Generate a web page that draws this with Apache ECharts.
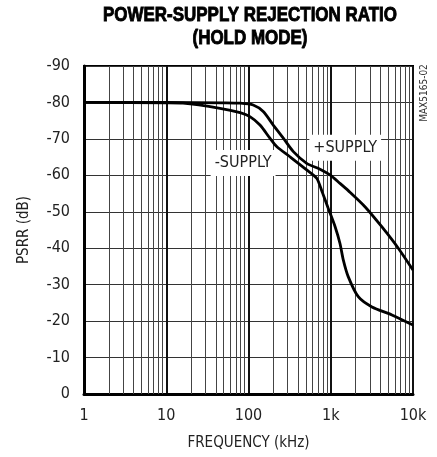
<!DOCTYPE html>
<html>
<head>
<meta charset="utf-8">
<script src="https://cdn.jsdelivr.net/npm/echarts@6/dist/echarts.min.js"></script>
<style>
    html, body { margin: 0; padding: 0; background: #fff; }
    #main { width: 437px; height: 457px; }
</style>
</head>
<body>
<div id="main"></div>
<script>
const FONT = "'Liberation Sans Narrow', 'DejaVu Sans Condensed', sans-serif";
const TITLE_FONT = "'Liberation Sans', Arial, sans-serif";

// frequency (kHz) / PSRR (dB)
const plusFreq = [1, 10, 50, 79, 114, 151, 200, 265, 351, 510, 740, 980, 1295, 1634, 2606, 4170, 6625, 10000];
const plusPsrr = [-80, -80, -79.9, -79.8, -79.3, -77.5, -73.8, -70.2, -66.5, -63.3, -61.7, -60.1, -57.8, -55.8, -51.4, -45.9, -40, -34];

const minusFreq = [1, 10, 16, 45, 79, 104, 138, 182, 220, 319, 510, 675, 785, 930, 1130, 1295, 1420, 1630, 2160, 3170, 5540, 10000];
const minusPsrr = [-80, -79.9, -79.8, -78.4, -77.2, -76.1, -73.8, -70.2, -67.9, -65.1, -61.5, -59.2, -55.5, -51, -45.9, -41.3, -36.8, -32.2, -26.7, -23.9, -21.7, -18.9];

// minor log grid lines (decades come from the axis split lines)
const minorGrid = [2, 3, 4, 5, 6, 7, 8, 9,
    20, 30, 40, 50, 60, 70, 80, 90,
    200, 300, 400, 500, 600, 700, 800, 900,
    2000, 3000, 4000, 5000, 6000, 7000, 8000, 9000];

const xTickLabels = { 1: '1', 10: '10', 100: '100', 1000: '1k', 10000: '10k' };

// curve labels: [text, freq, dB]
const curveLabels = [
    ['+SUPPLY', 1500, -67.6],
    ['-SUPPLY', 86, -63.4]
];

const titleLines = ['POWER-SUPPLY REJECTION RATIO', '(HOLD MODE)'];

const chart = echarts.init(document.getElementById('main'), null, { renderer: 'canvas' });

const zip = (xs, ys) => xs.map((x, i) => [x, ys[i]]);

const option = {
    animation: false,
    backgroundColor: '#fff',
    grid: {
        left: 84,
        right: 24,
        top: 66,
        bottom: 63,
        show: true,
        borderColor: '#000',
        borderWidth: 2,
        containLabel: false
    },
    xAxis: {
        type: 'log',
        logBase: 10,
        min: 1,
        max: 10000,
        name: 'FREQUENCY (kHz)',
        nameLocation: 'middle',
        nameGap: 42,
        nameTextStyle: { fontFamily: FONT, fontSize: 15, color: '#222' },
        axisLine: { show: true, lineStyle: { color: '#000', width: 3 } },
        axisTick: { show: false },
        axisLabel: {
            margin: 14,
            fontFamily: FONT,
            fontSize: 16,
            color: '#222',
            formatter: v => xTickLabels[Math.round(v)] || ''
        },
        splitLine: { show: true, lineStyle: { color: '#111', width: 2 } },
        minorTick: { show: false },
        minorSplitLine: { show: false }
    },
    yAxis: {
        type: 'value',
        min: -90,
        max: 0,
        interval: 10,
        inverse: true,
        name: 'PSRR (dB)',
        nameLocation: 'middle',
        nameGap: 52,
        nameTextStyle: { fontFamily: FONT, fontSize: 15, color: '#222' },
        axisLine: { show: true, onZero: false, lineStyle: { color: '#000', width: 3 } },
        axisTick: { show: false },
        axisLabel: { margin: 14, fontFamily: FONT, fontSize: 16, color: '#222' },
        splitLine: { show: true, lineStyle: { color: '#333', width: 1.2 } }
    },
    series: [
        {
            name: 'grid',
            type: 'line',
            data: [],
            z: 1,
            silent: true,
            markLine: {
                silent: true,
                symbol: ['none', 'none'],
                label: { show: false },
                lineStyle: { color: '#444', width: 1, type: 'solid' },
                data: minorGrid.map(v => ({ xAxis: v }))
            }
        },
        {
            name: '+SUPPLY',
            type: 'line',
            data: zip(plusFreq, plusPsrr),
            smooth: 0.25,
            symbol: 'none',
            z: 5,
            lineStyle: { color: '#000', width: 2.8 }
        },
        {
            name: '-SUPPLY',
            type: 'line',
            data: zip(minusFreq, minusPsrr),
            smooth: 0.25,
            symbol: 'none',
            z: 5,
            lineStyle: { color: '#000', width: 2.8 }
        }
    ]
};

chart.setOption(option);

// condensed bold title: squeeze a regular bold face to the reference width
const ctx = document.createElement('canvas').getContext('2d');
ctx.font = 'bold 20px ' + TITLE_FONT;
const titleScale = 294 / ctx.measureText(titleLines[0]).width;

const graphics = titleLines.map((line, i) => ({
    type: 'text',
    x: 250,
    y: 15 + i * 23,
    scaleX: titleScale,
    z: 10,
    style: {
        text: line,
        align: 'center',
        verticalAlign: 'middle',
        fontFamily: TITLE_FONT,
        fontWeight: 'bold',
        fontSize: 20,
        fill: '#000',
        stroke: '#000',
        lineWidth: 0.9
    }
}));

// curve labels and the part number, placed with the chart's own scales
curveLabels.forEach(([text, f, db]) => {
    const p = chart.convertToPixel({ gridIndex: 0 }, [f, db]);
    graphics.push({
        type: 'text',
        x: p[0],
        y: p[1],
        z: 10,
        style: {
            text: text,
            align: 'center',
            verticalAlign: 'middle',
            fontFamily: FONT,
            fontSize: 16,
            fill: '#222',
            backgroundColor: '#fff',
            padding: [5, 4]
        }
    });
});

graphics.push({
    type: 'text',
    x: 424,
    y: 93,
    rotation: Math.PI / 2,
    z: 10,
    style: {
        text: 'MAX5165-02',
        align: 'center',
        verticalAlign: 'middle',
        fontFamily: FONT,
        fontSize: 10,
        fill: '#333'
    }
});

chart.setOption({ graphic: graphics });
</script>
</body>
</html>
